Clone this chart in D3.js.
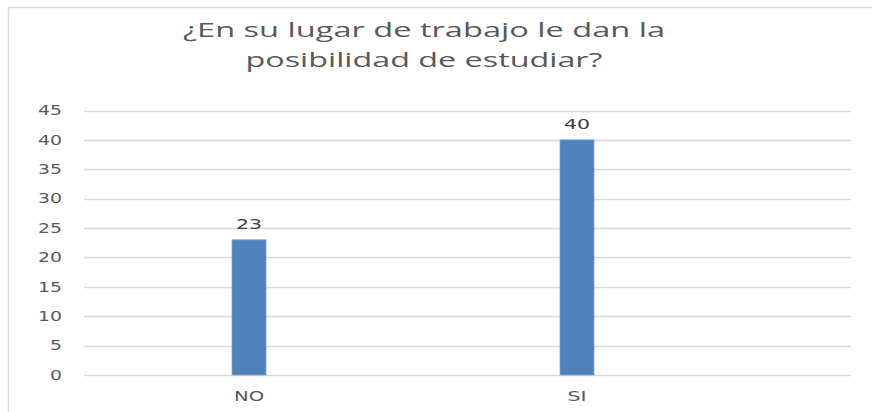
<!DOCTYPE html>
<html>
<head>
<meta charset="utf-8">
<script src="https://cdn.jsdelivr.net/npm/d3@7"></script>
<style>
  body { margin: 0; background: #fff; }
</style>
</head>
<body>
<div id="chart"></div>
<script>
const categories = ["NO", "SI"];
const values = [23, 40];
const yTicks = [0, 5, 10, 15, 20, 25, 30, 35, 40, 45];
const titleLines = ["¿En su lugar de trabajo le dan la", "posibilidad de estudiar?"];

const svgWidth = 872;
const svgHeight = 412;

const svg = d3.select("#chart").append("svg")
  .attr("width", svgWidth).attr("height", svgHeight);

// chart frame (only top and left edges are visible in the crop)
svg.append("path")
  .attr("d", "M8.5,412 V7.5 H872")
  .attr("fill", "none").attr("stroke", "#d9d9d9").attr("stroke-width", 1.5);

// the source picture is stretched sideways, so texts get a textLength
const titleWidths = [482, 357];
svg.append("g").selectAll("text").data(titleLines).join("text")
  .attr("x", 424).attr("y", (d, i) => 37 + i * 29.5)
  .attr("text-anchor", "middle")
  .attr("font-family", "'Open Sans', sans-serif")
  .attr("font-size", 20)
  .attr("fill", "#595959")
  .attr("textLength", (d, i) => titleWidths[i])
  .attr("lengthAdjust", "spacingAndGlyphs")
  .text(d => d);

const y = d3.scaleLinear().domain([0, 45]).range([375, 110.5]);
const x = d3.scaleBand().domain(categories).range([85, 741]).paddingInner(0).paddingOuter(0);
const gridRight = 851;
const barWidth = 34;

// gridlines
svg.append("g").selectAll("line").data(yTicks).join("line")
  .attr("x1", 84).attr("x2", gridRight)
  .attr("y1", d => Math.round(y(d)) + 0.5).attr("y2", d => Math.round(y(d)) + 0.5)
  .attr("stroke", "#d9d9d9").attr("stroke-width", 1.3);

// y axis labels
const yAxis = d3.axisLeft(y).tickValues(yTicks).tickSize(0).tickPadding(0);
const yg = svg.append("g").attr("transform", "translate(62,0)").call(yAxis);
yg.select(".domain").remove();
yg.selectAll("text")
  .attr("font-family", "'DejaVu Sans', Verdana, sans-serif")
  .attr("font-size", 13.5)
  .attr("fill", "#595959")
  .attr("textLength", d => String(d).length * 12)
  .attr("lengthAdjust", "spacingAndGlyphs");

// bars
svg.append("g").selectAll("rect").data(values).join("rect")
  .attr("x", (d, i) => x(categories[i]) + x.bandwidth() / 2 - barWidth / 2)
  .attr("y", d => y(d))
  .attr("width", barWidth)
  .attr("height", d => y(0) - y(d))
  .attr("fill", "#4f81bd")
  .attr("stroke", "#7ea3d4").attr("stroke-width", 0.8);

// value labels
svg.append("g").selectAll("text").data(values).join("text")
  .attr("x", (d, i) => x(categories[i]) + x.bandwidth() / 2)
  .attr("y", d => y(d) - 11)
  .attr("text-anchor", "middle")
  .attr("font-family", "'DejaVu Sans', Verdana, sans-serif")
  .attr("font-size", 14.5)
  .attr("fill", "#404040")
  .attr("textLength", d => String(d).length * 13)
  .attr("lengthAdjust", "spacingAndGlyphs")
  .text(d => d);

// x axis labels
const xLabelWidths = { NO: 30, SI: 19 };
const xAxis = d3.axisBottom(x).tickSize(0).tickPadding(0);
const xg = svg.append("g").attr("transform", "translate(0,391)").call(xAxis);
xg.select(".domain").remove();
xg.selectAll("text")
  .attr("font-family", "'DejaVu Sans', Verdana, sans-serif")
  .attr("font-size", 13.5)
  .attr("fill", "#595959")
  .attr("textLength", d => xLabelWidths[d])
  .attr("lengthAdjust", "spacingAndGlyphs");
</script>
</body>
</html>
